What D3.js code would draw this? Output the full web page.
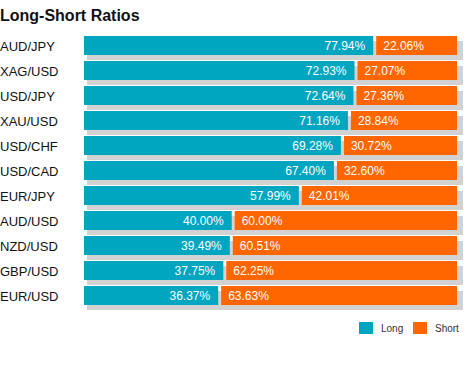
<!DOCTYPE html>
<html>
<head>
<meta charset="utf-8">
<script src="https://cdn.jsdelivr.net/npm/d3@7"></script>
<style>
  body { margin: 0; background: #fff; }
  svg { font-family: Arial, "Liberation Sans", sans-serif; }
</style>
</head>
<body>
<div id="chart"></div>
<script>
var pairs = ["AUD/JPY", "XAG/USD", "USD/JPY", "XAU/USD", "USD/CHF", "USD/CAD",
  "EUR/JPY", "AUD/USD", "NZD/USD", "GBP/USD", "EUR/USD"];
var longPct = [77.94, 72.93, 72.64, 71.16, 69.28, 67.40, 57.99, 40.00, 39.49, 37.75, 36.37];
var shortPct = [22.06, 27.07, 27.36, 28.84, 30.72, 32.60, 42.01, 60.00, 60.51, 62.25, 63.63];
var seriesNames = ["Long", "Short"];

var width = 475,
  height = 369,
  teal = "#00a5c0",
  orange = "#ff6600",
  gap = 1.5;

var svg = d3.select("#chart")
  .append("svg")
  .attr("width", width)
  .attr("height", height);

svg.append("text")
  .attr("x", 0)
  .attr("y", 21)
  .style("font-size", "16px")
  .style("font-weight", "bold")
  .style("fill", "#111")
  .text("Long-Short Ratios");

var x = d3.scaleLinear().domain([0, 100]).range([84, 457]);
var y = d3.scaleBand().domain(pairs).range([33, 308]).paddingInner(0.24).paddingOuter(0.12);
var bh = y.bandwidth();

var rows = svg.selectAll("g.row")
  .data(pairs)
  .enter()
  .append("g")
  .attr("class", "row")
  .attr("transform", function (d) { return "translate(0," + y(d) + ")"; });

// shadow behind each bar
rows.append("rect")
  .attr("x", x(0) + 3)
  .attr("y", 5)
  .attr("width", x(100) - x(0) + 3)
  .attr("height", bh)
  .style("fill", "#d2d2d2");

rows.append("rect")
  .attr("x", x(0))
  .attr("y", 0)
  .attr("width", function (d, i) { return x(longPct[i]) - x(0) - gap; })
  .attr("height", bh)
  .style("fill", teal);

rows.append("rect")
  .attr("x", function (d, i) { return x(longPct[i]) + gap; })
  .attr("y", 0)
  .attr("width", function (d, i) { return x(100) - x(longPct[i]) - gap; })
  .attr("height", bh)
  .style("fill", orange);

rows.append("text")
  .attr("x", 0)
  .attr("y", bh / 2 + 5)
  .style("font-size", "13px")
  .style("fill", "#111")
  .text(function (d) { return d; });

rows.append("text")
  .attr("x", function (d, i) { return x(longPct[i]) - gap - 8; })
  .attr("y", bh / 2 + 4.5)
  .attr("text-anchor", "end")
  .style("font-size", "12px")
  .style("fill", "#fff")
  .text(function (d, i) { return longPct[i].toFixed(2) + "%"; });

rows.append("text")
  .attr("x", function (d, i) { return x(longPct[i]) + gap + 7; })
  .attr("y", bh / 2 + 4.5)
  .style("font-size", "12px")
  .style("fill", "#fff")
  .text(function (d, i) { return shortPct[i].toFixed(2) + "%"; });

// legend
var legend = svg.selectAll("g.legend")
  .data(seriesNames)
  .enter()
  .append("g")
  .attr("class", "legend")
  .attr("transform", function (d, i) { return "translate(" + (359 + i * 54) + ",322)"; });

legend.append("rect")
  .attr("width", 14)
  .attr("height", 12)
  .style("fill", function (d, i) { return i === 0 ? teal : orange; });

legend.append("text")
  .attr("x", 22)
  .attr("y", 10)
  .style("font-size", "10px")
  .style("fill", "#333")
  .text(function (d) { return d; });
</script>
</body>
</html>
